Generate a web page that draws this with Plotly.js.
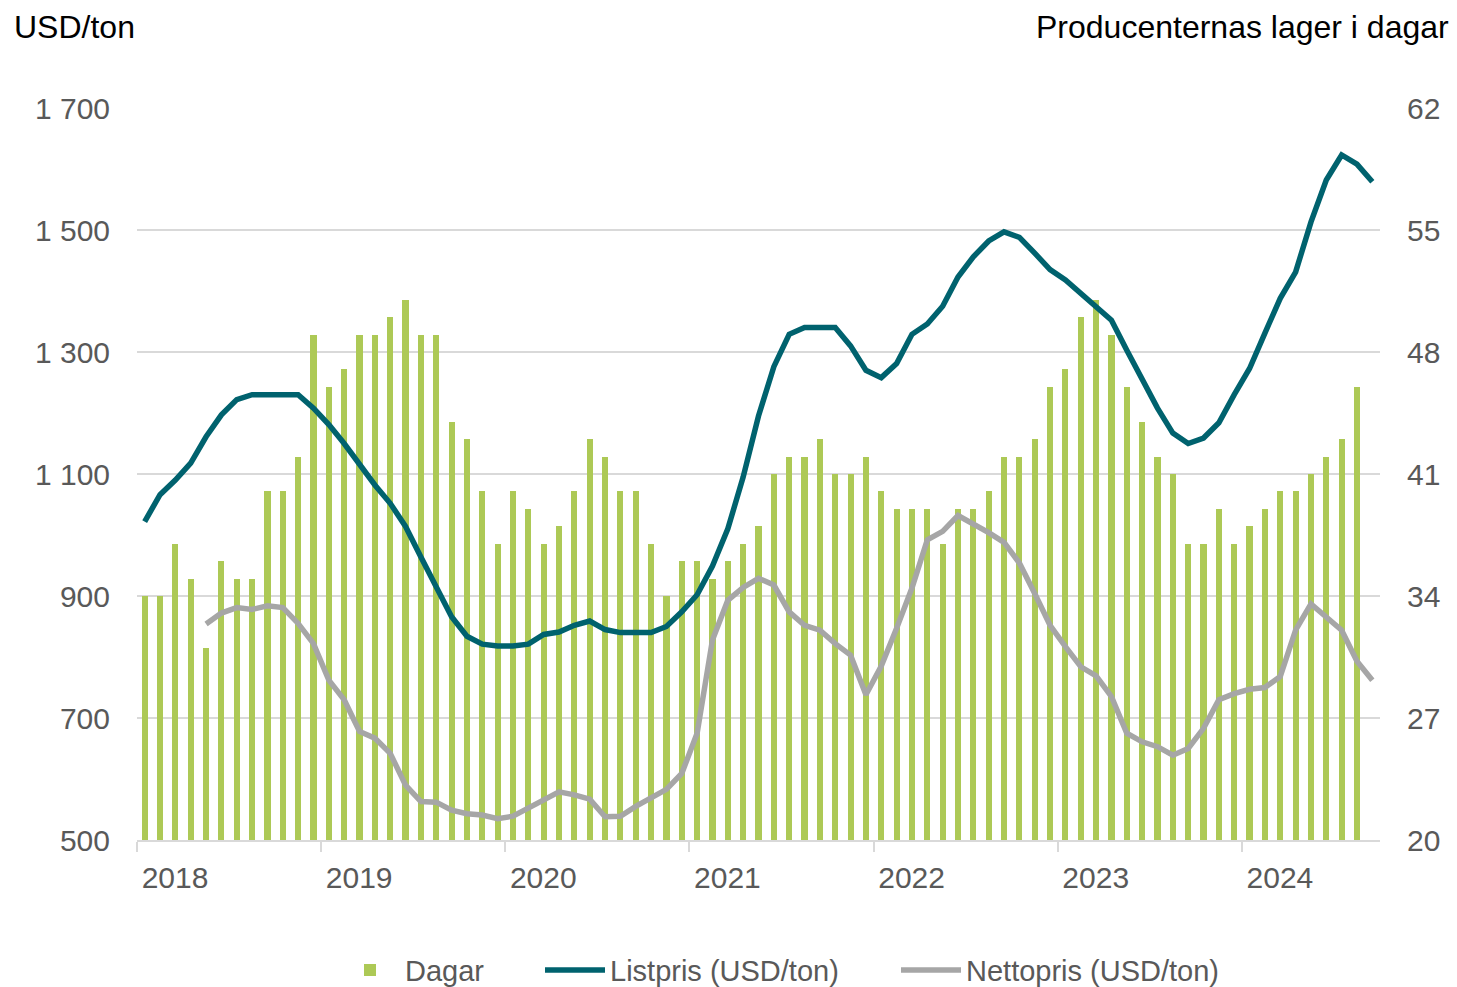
<!DOCTYPE html>
<html><head><meta charset="utf-8">
<script src="https://cdn.plot.ly/plotly-3.0.1.min.js"></script>
<style>html,body{margin:0;padding:0;background:#fff}#chart{width:1457px;height:987px}</style>
</head><body><div id="chart"></div>
<script>
// Categories: months Jan 2018 – Sep 2024
const years = ['2018','2019','2020','2021','2022','2023','2024'];
const months = [];
for (const y of years) for (let m = 1; m <= 12; m++) months.push(y + '-' + String(m).padStart(2, '0'));
const periods = months.slice(0, 81);

// Producenternas lager i dagar (Jan 2018 – Aug 2024)
const dagar = [
  34,34,37,35,31,36,35,35,40,40,42,49,
  46,47,49,49,50,51,49,49,44,43,40,37,
  40,39,37,38,40,43,42,40,40,37,34,36,
  36,35,36,37,38,41,42,42,43,41,41,42,
  40,39,39,39,37,39,39,40,42,42,43,46,
  47,50,51,49,46,44,42,41,37,37,39,37,
  38,39,40,40,41,42,43,46
];

// Listpris (USD/ton), Jan 2018 – Sep 2024
const listpris = [
  1022,1066,1090,1118,1161,1197,1222,1230,1230,1230,1230,1208,
  1181,1150,1116,1082,1052,1014,964,915,866,834,821,818,
  818,821,837,841,852,859,845,840,840,840,850,874,
  902,949,1010,1095,1195,1276,1329,1340,1340,1340,1310,1270,
  1258,1281,1329,1346,1375,1423,1456,1482,1497,1488,1462,1435,
  1418,1396,1374,1352,1303,1254,1208,1167,1150,1159,1184,1230,
  1273,1331,1388,1431,1513,1582,1623,1608,1579
];

// Nettopris (USD/ton), starts Apr 2018
const nettopris = [
  null,null,null,null,854,872,881,878,884,881,855,822,
  762,730,678,667,642,590,563,562,549,543,541,535,
  539,552,566,579,574,567,538,539,555,568,583,609,
  675,828,893,914,929,918,874,852,844,822,803,738,
  785,847,913,992,1006,1032,1019,1004,988,954,904,852,
  817,784,769,735,675,661,653,639,650,683,730,740,
  747,750,768,844,887,866,844,793,762
];

const daysTicks = [20,27,34,41,48,55,62];
const usdTicks = [500,700,900,1100,1300,1500,1700];

const xIdx = periods.map((_, i) => i);
const yearStart = years.map(y => months.indexOf(y + '-01') - 0.5);

const FONT = 'Liberation Sans, Arial, sans-serif';
const GRID = '#d9d9d9';
const TXT = '#595959';

const traces = [
  {type: 'bar', name: 'Dagar', x: xIdx.slice(0, dagar.length), y: dagar, yaxis: 'y',
   marker: {color: '#adc956'}, width: 0.4, legend: 'legend'},
  {type: 'scatter', mode: 'lines', name: 'Listpris (USD/ton)', x: xIdx, y: listpris, yaxis: 'y2',
   line: {color: '#00626e', width: 5.5}, legend: 'legend2'},
  {type: 'scatter', mode: 'lines', name: 'Nettopris (USD/ton)', x: xIdx, y: nettopris, yaxis: 'y2',
   line: {color: '#a6a6a6', width: 5.5}, connectgaps: false, legend: 'legend3'}
];

function leg(x, w) {
  return {orientation: 'h', xref: 'container', yref: 'container', x: x, xanchor: 'left',
    y: 0.017, yanchor: 'middle', font: {size: 29, color: TXT, family: FONT},
    bgcolor: 'rgba(0,0,0,0)', itemwidth: w};
}

const layout = {
  width: 1457, height: 987,
  margin: {l: 137, r: 77, t: 108, b: 147},
  paper_bgcolor: '#fff', plot_bgcolor: '#fff',
  font: {family: FONT, color: TXT, size: 30},
  separators: ', ',
  showlegend: true,
  bargap: 0,
  xaxis: {
    range: [-0.5, 80.5], tickmode: 'array', tickvals: yearStart, ticktext: years,
    ticklabelshift: 38, ticks: 'outside', ticklen: 10, tickwidth: 2, tickcolor: GRID,
    showline: true, linecolor: GRID, linewidth: 2, showgrid: false, zeroline: false,
    tickfont: {size: 30, color: TXT, family: FONT}, fixedrange: true
  },
  yaxis: {
    side: 'right', range: [20, 62], tickmode: 'array', tickvals: daysTicks,
    showgrid: true, gridcolor: GRID, gridwidth: 1.5, zeroline: false, showline: false,
    ticks: '', ticklabelstandoff: 26, tickfont: {size: 30, color: TXT, family: FONT}
  },
  yaxis2: {
    overlaying: 'y', side: 'left', range: [500, 1700], tickmode: 'array', tickvals: usdTicks,
    tickformat: ',d', showgrid: false, zeroline: false, showline: false,
    ticks: '', ticklabelstandoff: 26, tickfont: {size: 30, color: TXT, family: FONT}
  },
  legend: leg(335 / 1457, 60),
  legend2: leg(540 / 1457, 60),
  legend3: leg(896 / 1457, 60),
  annotations: [
    {text: 'USD/ton', xref: 'paper', yref: 'paper', x: (12 - 137) / 1243, y: (840 - 27) / 732,
     xanchor: 'left', yanchor: 'middle', showarrow: false, font: {size: 32, color: '#000', family: FONT}},
    {text: 'Producenternas lager i dagar', xref: 'paper', yref: 'paper', x: (1451 - 137) / 1243, y: (840 - 27) / 732,
     xanchor: 'right', yanchor: 'middle', showarrow: false, font: {size: 32, color: '#000', family: FONT}}
  ]
};

Plotly.newPlot('chart', traces, layout, {staticPlot: true, displayModeBar: false});
</script>
</body></html>
